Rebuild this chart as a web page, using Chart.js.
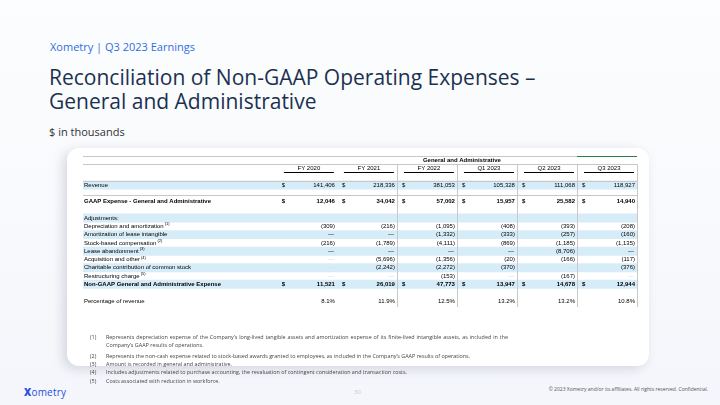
<!DOCTYPE html>
<html>
<head>
<meta charset="utf-8">
<script src="https://cdn.jsdelivr.net/npm/chart.js@4.4.0/dist/chart.umd.min.js"></script>
<style>
  html, body { margin: 0; padding: 0; }
  body {
    width: 720px; height: 405px; overflow: hidden; position: relative;
    background: linear-gradient(180deg, #fcfdfe 0%, #f4f6fb 100%);
    font-family: "Open Sans", sans-serif;
  }
  .kicker { position: absolute; left: 50px; top: 39px; font-size: 11px; color: #2f6fe0; }
  .title { position: absolute; left: 49px; top: 65px; font-size: 21px; line-height: 24px; color: #1b3150; }
  .units { position: absolute; left: 49px; top: 124px; font-size: 11px; color: #333; }
  .card {
    position: absolute; left: 67px; top: 148px; width: 582px; height: 218px;
    background: #fff; border-radius: 12px;
    box-shadow: -4px 3px 12px rgba(20, 30, 60, 0.15);
  }
  .card canvas { position: absolute; left: 0; top: 0; }
  .notes {
    position: absolute; left: 90px; top: 333px; width: 418px;
    font-size: 5.4px; line-height: 8.2px; color: #444;
  }
  .note { display: flex; }
  .note.first { margin-bottom: 2.5px; }
  .note .n { width: 16px; flex: none; }
  .note .t { flex: 1; text-align: justify; }
  .logo { position: absolute; left: 24px; top: 385px; font-size: 10px; color: #2b4de0; letter-spacing: 0.2px; }
  .logo b { font-weight: 800; }
  .page { position: absolute; left: 354px; top: 388px; font-size: 6px; color: #c6c9d0; }
  .copy { position: absolute; right: 12px; top: 386px; font-size: 5px; color: #555; }
</style>
</head>
<body>
<div class="kicker">Xometry | Q3 2023 Earnings</div>
<div class="title">Reconciliation of Non-GAAP Operating Expenses –<br>General and Administrative</div>
<div class="units">$ in thousands</div>

<div class="card"><canvas id="tbl" width="582" height="218"></canvas></div>

<div class="notes">
  <div class="note first"><span class="n">(1)</span><span class="t">Represents depreciation expense of the Company’s long-lived tangible assets and amortization expense of its finite-lived intangible assets, as included in the Company’s GAAP results of operations.</span></div>
  <div class="note"><span class="n">(2)</span><span class="t" style="text-align:left">Represents the non-cash expense related to stock-based awards granted to employees, as included in the Company’s GAAP results of operations.</span></div>
  <div class="note"><span class="n">(3)</span><span class="t">Amount is recorded in general and administrative.</span></div>
  <div class="note"><span class="n">(4)</span><span class="t">Includes adjustments related to purchase accounting, the revaluation of contingent consideration and transaction costs.</span></div>
  <div class="note"><span class="n">(5)</span><span class="t">Costs associated with reduction in workforce.</span></div>
</div>

<div class="logo"><b>X</b>ometry</div>
<div class="page">30</div>
<div class="copy">© 2023 Xometry and/or its affiliates. All rights reserved. Confidential.</div>

<script>
// table data ($ in thousands); null = not applicable (faint dash), 0 = dash
const periods = ['FY 2020', 'FY 2021', 'FY 2022', 'Q1 2023', 'Q2 2023', 'Q3 2023'];
const revenue = [141406, 218336, 381053, 105328, 111068, 118927];
const gaapExpense = [12046, 34042, 57002, 15957, 25582, 14940];
const depreciation = [-309, -216, -1095, -408, -393, -208];
const leaseIntangible = [0, 0, -1332, -333, -257, -160];
const stockComp = [-216, -1789, -4111, -869, -1185, -1135];
const leaseAbandonment = [0, 0, 0, 0, -8706, 0];
const acquisition = [null, -5696, -1356, -20, -166, -117];
const charitable = [null, -2242, -2272, -370, null, -376];
const restructuring = [null, null, -153, null, -167, null];
const nonGaapExpense = [11521, 26019, 47773, 13947, 14678, 12944];
const pctOfRevenue = [8.1, 11.9, 12.5, 13.2, 13.2, 10.8];

// row layout: key, label, footnote, style
const rows = [
    { key: 'group' },
    { key: 'periods' },
    { key: 'gap1' },
    { key: 'rev', label: 'Revenue', values: revenue, dollar: true, shade: true },
    { key: 'gap2' },
    { key: 'gaap', label: 'GAAP Expense - General and Administrative', values: gaapExpense, dollar: true, bold: true },
    { key: 'gap3' },
    { key: 'adj', label: 'Adjustments:', shade: true },
    { key: 'dep', label: 'Depreciation and amortization', note: '(1)', values: depreciation },
    { key: 'lease', label: 'Amortization of lease intangible', values: leaseIntangible, shade: true },
    { key: 'sbc', label: 'Stock-based compensation', note: '(2)', values: stockComp },
    { key: 'aband', label: 'Lease abandonment', note: '(3)', values: leaseAbandonment, shade: true },
    { key: 'acq', label: 'Acquisition and other', note: '(4)', values: acquisition },
    { key: 'char', label: 'Charitable contribution of common stock', values: charitable, shade: true },
    { key: 'restr', label: 'Restructuring charge', note: '(5)', values: restructuring },
    { key: 'nongaap', label: 'Non-GAAP General and Administrative Expense', values: nonGaapExpense, dollar: true, bold: true, shade: true },
    { key: 'gap4' },
    { key: 'pct', label: 'Percentage of revenue', values: pctOfRevenue, pct: true }
];

const LABEL_W = 3.23;               // label column, in data-column units
const TOTAL_W = LABEL_W + periods.length;
const FONT = '"Liberation Sans", Arial, sans-serif';

function fmtCell(v, pct) {
    if (pct) return v.toFixed(1) + '%';
    const s = Math.abs(v).toLocaleString('en-US');
    return v < 0 ? `(${s})` : s;
}

const tablePlugin = {
    id: 'tableText',
    afterDatasetsDraw(chart) {
        const { ctx, scales: { x, y } } = chart;
        const rowY = (key) => y.getPixelForValue(rows.findIndex((r) => r.key === key));
        const step = y.getPixelForValue(1) - y.getPixelForValue(0);
        const colL = (i) => x.getPixelForValue(LABEL_W + i);
        const left = x.getPixelForValue(0);
        const right = x.getPixelForValue(TOTAL_W);

        ctx.save();
        // grid lines
        ctx.strokeStyle = '#c8c8c8';
        ctx.lineWidth = 1;
        const hLine = (yy, x0, x1) => {
            ctx.beginPath();
            ctx.moveTo(x0, Math.round(yy) + 0.5);
            ctx.lineTo(x1, Math.round(yy) + 0.5);
            ctx.stroke();
        };
        hLine(rowY('group') - step / 2, left, right);
        hLine(rowY('group') + step / 2, left, right);
        hLine(rowY('rev') - step / 2, left, right);
        hLine(rowY('gap2') + 2, left, right);
        const top = rowY('group') + step / 2;
        const bottom = rowY('pct') + step / 2 + 2;
        [2, 3, 4, 5, 6].forEach((i) => {
            const xx = Math.round(colL(i)) + 0.5;
            ctx.beginPath();
            ctx.moveTo(xx, top);
            ctx.lineTo(xx, bottom);
            ctx.stroke();
        });
        ctx.strokeStyle = '#2e7d46';
        hLine(rowY('group') - step / 2, colL(5), right);

        // headers
        ctx.fillStyle = '#000';
        ctx.textBaseline = 'middle';
        ctx.textAlign = 'center';
        ctx.font = `bold 6px ${FONT}`;
        ctx.fillText('General and Administrative', (colL(0) + right) / 2 + 5, rowY('group'));
        ctx.font = `6px ${FONT}`;
        ctx.strokeStyle = '#000';
        periods.forEach((p, i) => {
            const c = (colL(i) + colL(i + 1)) / 2 + 2;
            ctx.fillText(p, c, rowY('periods'));
            hLine(rowY('periods') + 4, colL(i) + 7, colL(i + 1) - 3);
        });

        // body rows
        rows.forEach((r, ri) => {
            if (!r.label) return;
            const yy = y.getPixelForValue(ri);
            ctx.font = `${r.bold ? 'bold ' : ''}6px ${FONT}`;
            ctx.textAlign = 'left';
            ctx.fillStyle = '#000';
            ctx.fillText(r.label, left + 1, yy);
            if (r.note) {
                const w = ctx.measureText(r.label).width;
                ctx.font = `4px ${FONT}`;
                ctx.fillText(r.note, left + 2 + w, yy - 2);
            }
            if (!r.values) return;
            r.values.forEach((v, i) => {
                const l = colL(i);
                const rr = colL(i + 1) - 2;
                ctx.font = `${r.bold ? 'bold ' : ''}6px ${FONT}`;
                ctx.textAlign = 'right';
                if (v === null) {
                    ctx.fillStyle = '#d8d8d8';
                    ctx.fillText('—', rr - 1, yy);
                    return;
                }
                ctx.fillStyle = '#000';
                if (r.dollar) {
                    ctx.textAlign = 'left';
                    ctx.fillText('$', l + 5, yy);
                    ctx.textAlign = 'right';
                }
                if (v === 0 && !r.pct) {
                    ctx.fillText('—', rr - 1, yy);
                    return;
                }
                ctx.fillText(fmtCell(v, r.pct), rr, yy);
            });
        });
        ctx.restore();
    }
};

new Chart(document.getElementById('tbl'), {
    type: 'bar',
    data: {
        labels: rows.map((r) => r.key),
        datasets: [{
            data: rows.map((r) => (r.shade ? [0, TOTAL_W] : null)),
            backgroundColor: '#d6ecf8',
            borderWidth: 0,
            barPercentage: 1,
            categoryPercentage: 1
        }]
    },
    options: {
        indexAxis: 'y',
        responsive: false,
        animation: false,
        layout: { padding: { left: 16, right: 12, top: 8, bottom: 61 } },
        plugins: { legend: { display: false }, tooltip: { enabled: false } },
        scales: {
            x: { type: 'linear', min: 0, max: TOTAL_W, display: false },
            y: { type: 'category', display: false, offset: true }
        }
    },
    plugins: [tablePlugin]
});
</script>
</body>
</html>
